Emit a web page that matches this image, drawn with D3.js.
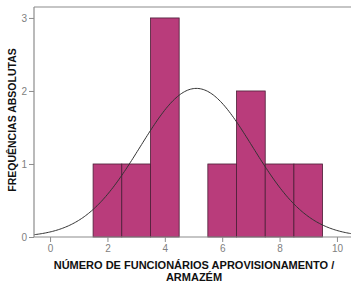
<!DOCTYPE html>
<html><head><meta charset="utf-8">
<script src="https://cdn.jsdelivr.net/npm/d3@7"></script>
<style>body{margin:0;background:#fff}svg{display:block}text{font-family:"Liberation Sans",Arial,sans-serif}</style>
</head><body><svg id="c" width="351" height="286"></svg>
<script>
const binStarts = [1.5, 2.5, 3.5, 5.5, 6.5, 7.5, 8.5];
const binCounts = [1, 1, 3, 1, 2, 1, 1];
const binWidth = 1;
const xTicks = [0, 2, 4, 6, 8, 10];
const yTicks = [0, 1, 2, 3];
const curveMean = 5.1, curveSd = 1.96, curveN = 10;
const xLabel = ["NÚMERO DE FUNCIONÁRIOS APROVISIONAMENTO /", "ARMAZÉM"];
const yLabel = "FREQUÊNCIAS ABSOLUTAS";

const svg = d3.select("#c");
const x = d3.scaleLinear().domain([-0.56, 10.49]).range([34, 351]);
const y = d3.scaleLinear().domain([0, 3.15]).range([237, 7]);
const axisCol = "#8c8c8c";

svg.selectAll("rect.bar").data(binStarts).enter().append("rect")
  .attr("x", d => x(d)).attr("width", d => x(d + binWidth) - x(d))
  .attr("y", (d, i) => y(binCounts[i])).attr("height", (d, i) => y(0) - y(binCounts[i]))
  .attr("fill", "#b93c7b").attr("stroke", "#4a1e36").attr("stroke-width", 0.8);

const pts = d3.range(x.domain()[0], x.domain()[1] + 0.001, 0.05);
const dens = v => curveN * binWidth / (curveSd * Math.sqrt(2 * Math.PI)) * Math.exp(-((v - curveMean) ** 2) / (2 * curveSd * curveSd));
svg.append("path").datum(pts)
  .attr("d", d3.line().x(d => x(d)).y(d => y(dens(d))).curve(d3.curveBasis))
  .attr("fill", "none").attr("stroke", "#333").attr("stroke-width", 1);

// frame
svg.append("line").attr("x1", 34).attr("x2", 351).attr("y1", 7).attr("y2", 7).attr("stroke", axisCol).attr("stroke-width", 1.2);

const xa = svg.append("g").attr("transform", `translate(0,${y(0)})`)
  .call(d3.axisBottom(x).tickValues(xTicks).tickSize(5).tickPadding(3).tickFormat(d3.format("d")));
const ya = svg.append("g").attr("transform", `translate(${x.range()[0]},0)`)
  .call(d3.axisLeft(y).tickValues(yTicks).tickSize(5).tickPadding(2).tickFormat(d3.format("d")));
[xa, ya].forEach(g => {
  g.select(".domain").attr("stroke", axisCol).attr("stroke-width", 1.2);
  g.selectAll(".tick line").attr("stroke", axisCol);
  g.selectAll(".tick text").attr("fill", "#808080").attr("font-size", 10).attr("font-family", "Liberation Sans, Arial, sans-serif");
});
xa.select(".domain").attr("d", `M34,0H351`);
ya.select(".domain").attr("d", `M0,${y(0)}V7`);

svg.append("text").attr("transform", "translate(16,120) rotate(-90)")
  .attr("text-anchor", "middle").attr("font-weight", "bold").attr("font-size", 10.5).attr("fill", "#111").text(yLabel);
svg.selectAll("text.xl").data(xLabel).enter().append("text")
  .attr("x", 194).attr("y", (d, i) => 269 + i * 11.5).attr("text-anchor", "middle")
  .attr("font-weight", "bold").attr("font-size", 11).attr("fill", "#111").text(d => d);
</script></body></html>
